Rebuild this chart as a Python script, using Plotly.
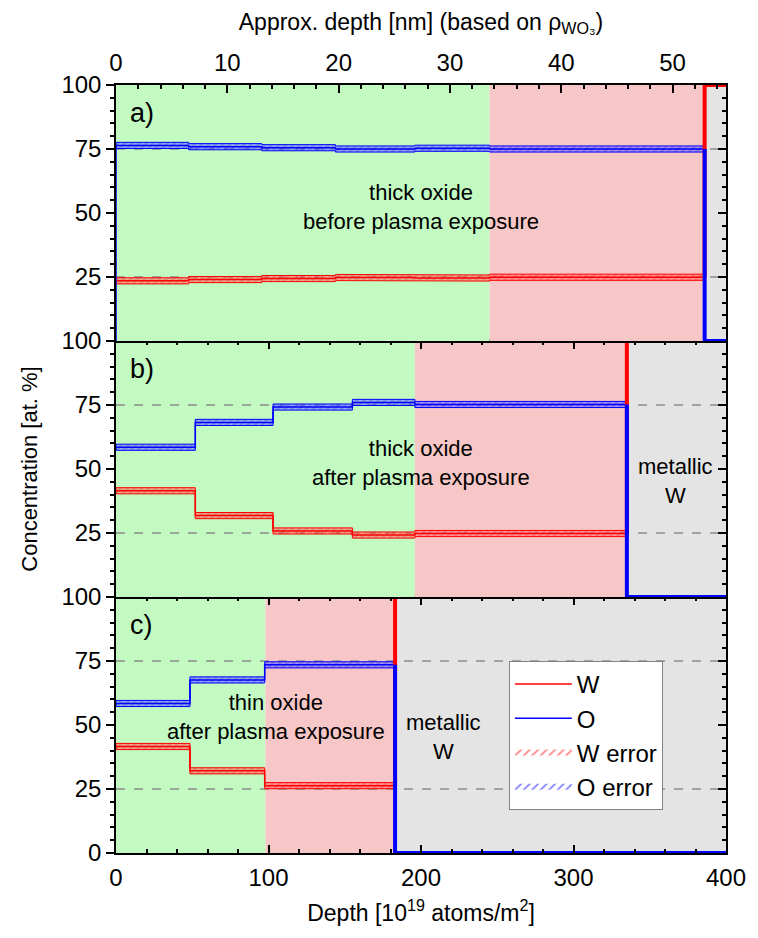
import numpy as np
import plotly.graph_objects as go

# ---------------- data ----------------
# panel a) thick oxide before plasma exposure
edges_a = [0, 47.7, 95.6, 143.9, 196, 245, 386]
O_a = [76.4, 75.9, 75.5, 75.0, 75.3, 75.0]
W_a = [23.5, 24.0, 24.4, 24.8, 24.6, 24.9]
regions_a = [0, 245, 386, 400]   # green | pink | gray

# panel b) thick oxide after plasma exposure
edges_b = [0, 52, 103, 155, 196, 335]
O_b = [58.5, 68.2, 74.2, 76.0, 75.2]
W_b = [41.5, 31.8, 25.8, 24.2, 24.8]
regions_b = [0, 196, 335, 400]

# panel c) thin oxide after plasma exposure
edges_c = [0, 48.5, 97.5, 183]
O_c = [58.4, 67.6, 73.5]
W_c = [41.6, 32.1, 26.3]
regions_c = [0, 98, 183, 400]

err = 1.2            # half width of error band [at. %]
x_max = 400          # depth axis max [1e19 atoms/m2]
nm_per_unit = 0.137  # approx. nm per 1e19 atoms/m2 (rho WO3)

panel_labels = ["a)", "b)", "c)"]
panel_texts = ["thick oxide<br>before plasma exposure",
               "thick oxide<br>after plasma exposure",
               "thin oxide<br>after plasma exposure"]

# ---------------- styling ----------------
RED = "#FF0000"
BLUE = "#0000FF"
GREEN_BG = "rgb(194,250,194)"
PINK_BG = "rgb(247,198,198)"
GRAY_BG = "rgb(228,228,228)"
FONT = "Liberation Sans, Arial, sans-serif"

fig = go.Figure()

panels = [
    (edges_a, O_a, W_a, regions_a, "x3", "y3", (200, 52.5), None),
    (edges_b, O_b, W_b, regions_b, "x2", "y2", (200, 52.5), (367, 45.5)),
    (edges_c, O_c, W_c, regions_c, "x", "y", (105, 53), (215, 45.5)),
]


def band(edges, vals, e):
    xs_up, ys_up, xs_lo, ys_lo = [], [], [], []
    for i, v in enumerate(vals):
        xs_up += [edges[i], edges[i + 1]]
        ys_up += [v + e, v + e]
        xs_lo += [edges[i], edges[i + 1]]
        ys_lo += [v - e, v - e]
    xs = xs_up + xs_lo[::-1] + [xs_up[0]]
    ys = ys_up + ys_lo[::-1] + [ys_up[0]]
    return xs, ys


shapes = []
annotations = []

for pi, (edges, O, W, reg, xa, ya, tpos, mpos) in enumerate(panels):
    first = pi == 0
    for (x0, x1, col) in [(reg[0], reg[1], GREEN_BG), (reg[1], reg[2], PINK_BG),
                          (reg[2], reg[3], GRAY_BG)]:
        shapes.append(dict(type="rect", xref=xa, yref=ya, x0=x0, x1=x1, y0=0, y1=100,
                           fillcolor=col, line=dict(width=0), layer="below"))
    for yv in (25, 75):
        shapes.append(dict(type="line", xref=xa, yref=ya, x0=0, x1=x_max, y0=yv, y1=yv,
                           line=dict(color="rgb(140,140,140)", width=1.5, dash="dash"),
                           layer="below"))

    bx, by = band(edges, W, err)
    fig.add_trace(go.Scatter(x=bx, y=by, xaxis=xa, yaxis=ya, mode="lines", fill="toself",
                             line=dict(color=RED, width=1),
                             fillpattern=dict(shape="/", fgcolor="rgba(255,255,255,0.7)",
                                              bgcolor="rgba(255,60,60,0.55)", size=5, solidity=0.25),
                             showlegend=False, hoverinfo="skip"))
    wy = list(W) + [W[-1]]
    fig.add_trace(go.Scatter(x=edges, y=wy, xaxis=xa, yaxis=ya, mode="lines",
                             line=dict(color=RED, width=1.5, shape="hv"),
                             name="W", legendrank=1,
                             showlegend=first, hoverinfo="skip"))
    bx, by = band(edges, O, err)
    fig.add_trace(go.Scatter(x=bx, y=by, xaxis=xa, yaxis=ya, mode="lines", fill="toself",
                             line=dict(color=BLUE, width=1),
                             fillpattern=dict(shape="/", fgcolor="rgba(255,255,255,0.7)",
                                              bgcolor="rgba(60,60,255,0.55)", size=5, solidity=0.25),
                             showlegend=False, hoverinfo="skip"))
    ox = list(edges)
    oy = list(O) + [O[-1]]
    if first:
        ox = [0] + ox
        oy = [0] + oy
    fig.add_trace(go.Scatter(x=ox, y=oy, xaxis=xa, yaxis=ya, mode="lines",
                             line=dict(color=BLUE, width=1.5, shape="hv"),
                             name="O", legendrank=2,
                             showlegend=first, hoverinfo="skip"))
    b = edges[-1]
    fig.add_trace(go.Scatter(x=[b, b, x_max], y=[W[-1], 100, 100], xaxis=xa, yaxis=ya,
                             mode="lines", line=dict(color=RED, width=4),
                             showlegend=False, hoverinfo="skip"))
    fig.add_trace(go.Scatter(x=[b, b, x_max], y=[O[-1], 0, 0], xaxis=xa, yaxis=ya,
                             mode="lines", line=dict(color=BLUE, width=4),
                             showlegend=False, hoverinfo="skip"))

    annotations.append(dict(xref=xa, yref=ya, x=8, y=89, text=panel_labels[pi],
                            showarrow=False, xanchor="left", yanchor="middle",
                            font=dict(size=27, color="black", family=FONT)))
    annotations.append(dict(xref=xa, yref=ya, x=tpos[0], y=tpos[1], text=panel_texts[pi],
                            showarrow=False, xanchor="center", yanchor="middle",
                            font=dict(size=22, color="black", family=FONT)))
    if mpos is not None:
        annotations.append(dict(xref=xa, yref=ya, x=mpos[0], y=mpos[1], text="metallic<br>W",
                                showarrow=False, xanchor="center", yanchor="middle",
                                font=dict(size=22, color="black", family=FONT)))

# legend-only entries for the hatched error symbols
fig.add_trace(go.Scatter(x=[None], y=[None], mode="none", fill="toself",
                         fillpattern=dict(shape="/", fgcolor=RED, bgcolor="white", size=6, solidity=0.3),
                         name="W error", legendrank=3, showlegend=True, hoverinfo="skip"))
fig.add_trace(go.Scatter(x=[None], y=[None], mode="none", fill="toself",
                         fillpattern=dict(shape="/", fgcolor=BLUE, bgcolor="white", size=6, solidity=0.3),
                         name="O error", legendrank=4, showlegend=True, hoverinfo="skip"))

tickfont = dict(size=24, color="black", family=FONT)
ycommon = dict(range=[0, 100], showgrid=False, zeroline=False, showline=True,
               linecolor="black", linewidth=1.5, ticks="outside", ticklen=8, tickwidth=1.5,
               tickcolor="black", tickfont=tickfont, mirror=True,
               minor=dict(dtick=5, ticks="outside", ticklen=4, tickwidth=1.5, tickcolor="black"))
yright = dict(range=[0, 100], showgrid=False, zeroline=False, showline=False,
              ticks="inside", ticklen=8, tickwidth=1.5, tickcolor="black",
              showticklabels=False, side="right", tickvals=[0, 25, 50, 75, 100],
              minor=dict(dtick=5, ticks="inside", ticklen=4, tickwidth=1.5, tickcolor="black"))
xcommon = dict(range=[0, x_max], showgrid=False, zeroline=False, showline=True,
               linecolor="black", linewidth=1.5, tickcolor="black", tickwidth=1.5,
               tickvals=[0, 100, 200, 300, 400])

fig.update_layout(
    width=758, height=938,
    margin=dict(l=116, r=21, t=85, b=85),
    paper_bgcolor="white", plot_bgcolor="white",
    font=dict(family=FONT, color="black"),
    xaxis=dict(**xcommon, anchor="y", domain=[0, 1], ticks="inside", ticklen=8,
               mirror="ticks", tickfont=tickfont, ticklabelstandoff=2,
               minor=dict(dtick=20, ticks="inside", ticklen=4, tickwidth=1.5, tickcolor="black"),
               title=dict(text="Depth [10<sup>19</sup> atoms/m<sup>2</sup>]",
                          font=dict(size=23, color="black", family=FONT), standoff=15)),
    xaxis2=dict(**xcommon, anchor="y2", domain=[0, 1], side="top", ticks="inside", ticklen=8,
                mirror=True, showticklabels=False,
                minor=dict(dtick=20, ticks="inside", ticklen=4, tickwidth=1.5, tickcolor="black")),
    xaxis3=dict(**xcommon, anchor="y3", domain=[0, 1], ticks="", mirror=True,
                showticklabels=False),
    xaxis4=dict(range=[0, x_max * nm_per_unit], overlaying="x3", anchor="y3", side="top",
                showgrid=False, zeroline=False, showline=False, ticks="inside", ticklen=8,
                tickwidth=1.5, tickcolor="black", dtick=10, tick0=0, tickfont=tickfont,
                ticklabelstandoff=8,
                minor=dict(dtick=2, ticks="inside", ticklen=4, tickwidth=1.5, tickcolor="black"),
                title=dict(text="Approx. depth [nm] (based on ρ<sub>WO₃</sub>)",
                           font=dict(size=23, color="black", family=FONT), standoff=12)),
    yaxis=dict(**ycommon, domain=[0, 1 / 3], anchor="x", tickvals=[0, 25, 50, 75, 100]),
    yaxis2=dict(**ycommon, domain=[1 / 3, 2 / 3], anchor="x2", tickvals=[25, 50, 75, 100],
                title=dict(text="Concentration [at. %]",
                           font=dict(size=22, color="black", family=FONT), standoff=18)),
    yaxis3=dict(**ycommon, domain=[2 / 3, 1], anchor="x3", tickvals=[25, 50, 75, 100]),
    yaxis4=dict(**yright, overlaying="y", anchor="x"),
    yaxis5=dict(**yright, overlaying="y2", anchor="x2"),
    yaxis6=dict(**yright, overlaying="y3", anchor="x3"),
    shapes=shapes,
    annotations=annotations,
    legend=dict(x=0.644, y=0.25, xanchor="left", yanchor="top", bgcolor="white",
                bordercolor="rgb(130,130,130)", borderwidth=1,
                font=dict(size=24, color="black", family=FONT),
                itemwidth=57, tracegroupgap=0, traceorder="normal"),
    showlegend=True,
)

# dummy traces to activate the right-side tick axes and the top nm axis
for xa, ya in [("x", "y4"), ("x2", "y5"), ("x3", "y6"), ("x4", "y3")]:
    fig.add_trace(go.Scatter(x=[None], y=[None], xaxis=xa, yaxis=ya, showlegend=False,
                             hoverinfo="skip"))

fig.write_html("out.html")
